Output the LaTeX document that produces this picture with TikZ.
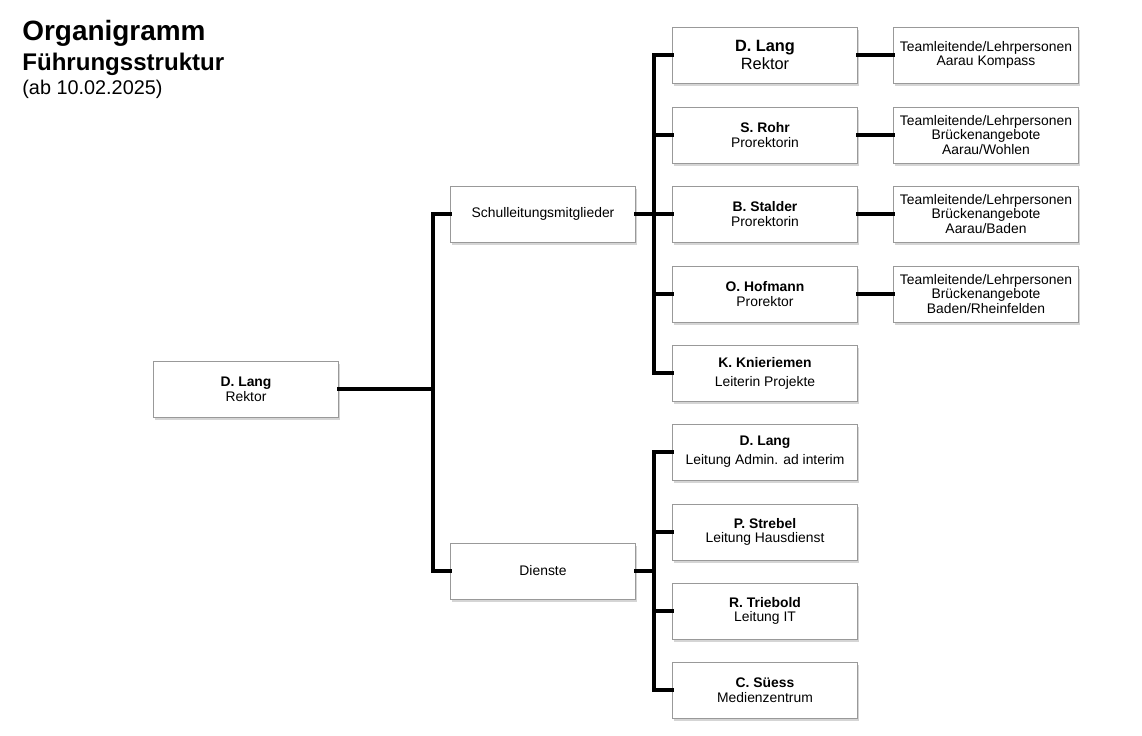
\documentclass[tikz,border=0pt]{standalone}
\usepackage{fontspec}
\setmainfont{Liberation Sans}
\usetikzlibrary{shadows}

\tikzset{
  orgbox/.style={draw=black!40, fill=white, minimum width=3.7cm, minimum height=1.12cm,
    align=center, inner sep=1pt, font=\fontsize{7.9}{8.4}\selectfont,
    drop shadow={shadow xshift=1pt, shadow yshift=-1.5pt, opacity=0.3, fill=black!55}},
  link/.style={line width=2.2pt, line cap=rect},
  title/.style={anchor=base west, inner sep=0pt}
}
\newcommand{\nm}[1]{\textbf{#1}}

\begin{document}
\begin{tikzpicture}[x=0.02cm, y=-0.02cm]
	\useasboundingbox (0,0) rectangle (1142,735);
	% Titel
	\node[title, font=\fontsize{15.9}{18}\selectfont\bfseries] at (22,40) (t1){Organigramm};
	\node[title, font=\fontsize{13.7}{16}\selectfont\bfseries] at (22,70) (t2){Führungsstruktur};
	\node[title, font=\fontsize{11.3}{13}\selectfont] at (22,94) (t3){(ab 10.02.2025)};

	% Boxen
	\node[orgbox] at (246,389) (root){\nm{D. Lang}\\Rektor};
	\node[orgbox] at (543,214) (sl){Schulleitungsmitglieder};
	\node[orgbox] at (543,571) (di){Dienste};

	\node[orgbox, font=\fontsize{9.3}{10.3}\selectfont] at (765,55) (s1){\nm{D. Lang}\\Rektor};
	\node[orgbox] at (765,135) (s2){\nm{S. Rohr}\\Prorektorin};
	\node[orgbox] at (765,214) (s3){\nm{B. Stalder}\\Prorektorin};
	\node[orgbox] at (765,294) (s4){\nm{O. Hofmann}\\Prorektor};
	\node[orgbox] at (765,373) (s5){\nm{K. Knieriemen}\\[2.5pt]Leiterin Projekte};

	\node[orgbox] at (765,452) (d1){\nm{D. Lang}\\[2.5pt]Leitung Admin. ad interim};
	\node[orgbox] at (765,532) (d2){\nm{P. Strebel}\\Leitung Hausdienst};
	\node[orgbox] at (765,611) (d3){\nm{R. Triebold}\\Leitung IT};
	\node[orgbox] at (765,690) (d4){\nm{C. Süess}\\Medienzentrum};

	\node[orgbox] at (986,55) (t1a){Teamleitende/Lehrpersonen\\Aarau Kompass};
	\node[orgbox] at (986,135) (t2a){Teamleitende/Lehrpersonen\\Brückenangebote\\Aarau/Wohlen};
	\node[orgbox] at (986,214) (t3a){Teamleitende/Lehrpersonen\\Brückenangebote\\Aarau/Baden};
	\node[orgbox] at (986,294) (t4a){Teamleitende/Lehrpersonen\\Brückenangebote\\Baden/Rheinfelden};

	% Linien
	\coordinate (ta) at (433,0);
	\coordinate (tb) at (654,0);
	\draw[link] (root.east) -- (root.east -| ta) |- (sl.west);
	\draw[link] (root.east -| ta) |- (di.west);

	\draw[link] (sl.east) -- (sl.east -| tb);
	\foreach \n in {s1,s2,s3,s4,s5}
		\draw[link] (sl.east -| tb) |- (\n.west);
	\draw[link] (di.east) -- (di.east -| tb);
	\foreach \n in {d1,d2,d3,d4}
		\draw[link] (di.east -| tb) |- (\n.west);

	\draw[link] (s1.east) -- (t1a.west);
	\draw[link] (s2.east) -- (t2a.west);
	\draw[link] (s3.east) -- (t3a.west);
	\draw[link] (s4.east) -- (t4a.west);
\end{tikzpicture}
\end{document}
